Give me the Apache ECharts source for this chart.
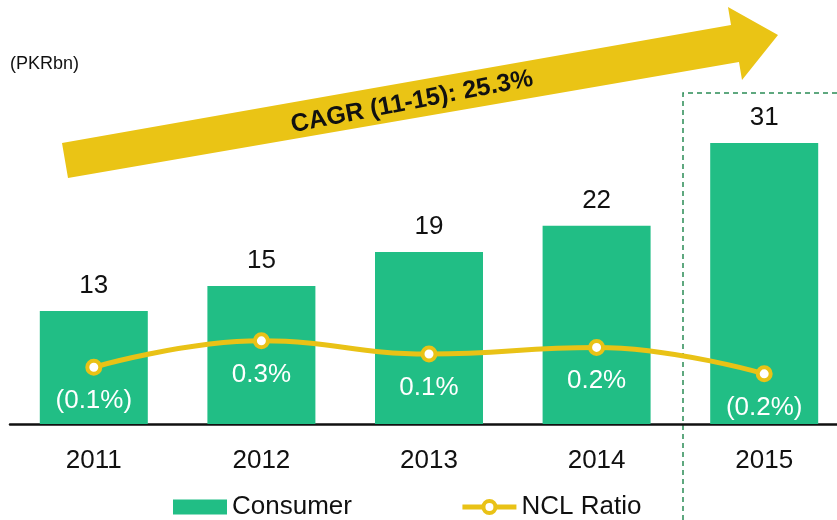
<!DOCTYPE html>
<html>
<head>
<meta charset="utf-8">
<script src="https://cdn.jsdelivr.net/npm/echarts@6/dist/echarts.min.js"></script>
<style>
html,body{margin:0;padding:0;background:#fff;}
#chart{width:837px;height:520px;}
</style>
</head>
<body>
<div id="chart"></div>
<script>
var years = ['2011', '2012', '2013', '2014', '2015'];
var consumer = [12.5, 15.25, 19.0, 21.9, 31.05];
var nclRatio = [-0.1, 0.3, 0.1, 0.2, -0.2];
var unitLabel = '(PKRbn)';
var cagrLabel = 'CAGR (11-15): 25.3%';

var FONT = '"Liberation Sans", Arial, sans-serif';
var GREEN = '#21BE85';
var YELLOW = '#E9C216';

var chart = echarts.init(document.getElementById('chart'), null, {renderer: 'canvas'});
chart.setOption({
  animation: false,
  backgroundColor: '#ffffff',
  textStyle: {fontFamily: FONT},
  grid: {left: 10, top: 62, width: 838, bottom: 96, containLabel: false, outerBoundsMode: 'none'},
  legend: {
    left: 168, top: 489,
    itemWidth: 54, itemHeight: 15, itemGap: 108,
    textStyle: {fontSize: 26, color: '#111', fontFamily: FONT},
    data: [
      {name: 'Consumer', icon: 'rect'},
      {name: 'NCL Ratio',
       lineStyle: {color: YELLOW, width: 5},
       itemStyle: {color: '#ffffff', borderColor: YELLOW, borderWidth: 4}}
    ]
  },
  xAxis: {
    type: 'category',
    data: years,
    axisLine: {show: true, lineStyle: {color: '#111', width: 2.5}},
    axisTick: {show: false},
    axisLabel: {fontSize: 26, color: '#111', margin: 24, fontFamily: FONT, lineHeight: 26}
  },
  yAxis: [
    {type: 'value', min: 0, max: 40, show: false, splitLine: {show: false}},
    {type: 'value', min: -0.96, max: 4.525, show: false, splitLine: {show: false}}
  ],
  series: [
    {
      name: 'Consumer',
      type: 'bar',
      data: consumer,
      barWidth: 108,
      itemStyle: {color: GREEN},
      label: {
        show: true, position: 'top', distance: 12,
        fontSize: 26, color: '#111', fontFamily: FONT, lineHeight: 26,
        formatter: function (p) { return Math.round(p.value); }
      }
    },
    {
      name: 'NCL Ratio',
      type: 'line',
      yAxisIndex: 1,
      data: nclRatio,
      smooth: 0.45,
      symbol: 'circle',
      symbolSize: 13,
      lineStyle: {color: YELLOW, width: 5},
      itemStyle: {color: '#ffffff', borderColor: YELLOW, borderWidth: 4},
      z: 5,
      label: {
        show: true, position: 'bottom', distance: 12,
        fontSize: 26, color: '#ffffff', fontFamily: FONT, lineHeight: 26,
        formatter: function (p) {
          var v = Math.abs(p.value).toFixed(1) + '%';
          return p.value < 0 ? '(' + v + ')' : v;
        }
      }
    }
  ],
  graphic: [
    {
      type: 'text', left: 10, top: 55,
      style: {text: unitLabel, fontSize: 18, fill: '#111', font: '18px ' + FONT}
    },
    {
      type: 'polygon', z: 1,
      shape: {points: [[62,143],[731,25],[728,7],[778,35],[742,80],[739,62],[68,178]]},
      style: {fill: '#EAC415'}
    },
    {
      type: 'text', z: 2,
      x: 412, y: 102,
      rotation: 11 * Math.PI / 180,
      style: {
        text: cagrLabel, fill: '#111',
        font: 'bold 25px ' + FONT,
        align: 'center', verticalAlign: 'middle'
      }
    },
    {
      type: 'polyline', z: 0,
      shape: {points: [[683,520],[683,93],[840,93]]},
      style: {stroke: '#2A8C55', lineWidth: 1.5, lineDash: [5,4], fill: null}
    }
  ]
});
</script>
</body>
</html>
